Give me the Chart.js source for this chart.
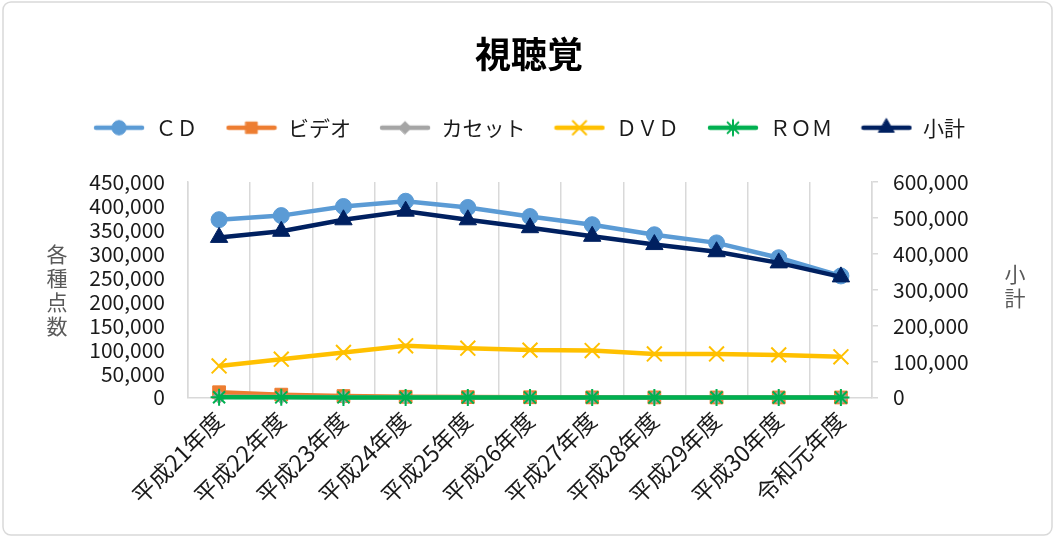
<!DOCTYPE html>
<html>
<head>
<meta charset="utf-8">
<script src="https://cdn.jsdelivr.net/npm/chart.js@4/dist/chart.umd.min.js"></script>
<style>
  html, body { margin: 0; padding: 0; background: #fff; }
  #wrap { width: 1058px; height: 543px; position: relative; }
</style>
</head>
<body>
<div id="wrap"><canvas id="myChart"></canvas></div>
<script>
// categories (fiscal years)
const years = ['平成21年度', '平成22年度', '平成23年度', '平成24年度', '平成25年度', '平成26年度',
  '平成27年度', '平成28年度', '平成29年度', '平成30年度', '令和元年度'];

// series values
const cdValues       = [371500, 380000, 399000, 410000, 397000, 378000, 361000, 340000, 323000, 292000, 254000];
const videoValues    = [11000, 6000, 3000, 1500, 800, 500, 300, 200, 100, 100, 50];
const cassetteValues = [1500, 800, 400, 200, 100, 50, 30, 20, 10, 10, 5];
const dvdValues      = [66000, 80000, 94000, 108000, 103000, 99000, 98000, 91000, 91000, 89000, 85000];
const romValues      = [500, 300, 200, 100, 50, 30, 20, 10, 10, 5, 5];
const subtotalValues = [446000, 463000, 495000, 519000, 495000, 473000, 449000, 426000, 406000, 375000, 336000];

// tick labels
const leftTicks  = [0, 50000, 100000, 150000, 200000, 250000, 300000, 350000, 400000, 450000];
const rightTicks = [0, 100000, 200000, 300000, 400000, 500000, 600000];

const fontFamily = '"Noto Sans CJK JP", "Noto Sans", sans-serif';
const textColor = '#1a1a1a';
const gridColor = '#d9d9d9';

// legend icon: line with the marker in the middle
function legendIcon(color, style, radius, borderWidth) {
  const c = document.createElement('canvas');
  c.width = 52;
  c.height = 22;
  const g = c.getContext('2d');
  g.strokeStyle = color;
  g.lineWidth = 4.5;
  g.lineCap = 'round';
  g.beginPath();
  g.moveTo(3, 11);
  g.lineTo(49, 11);
  g.stroke();
  g.fillStyle = color;
  g.lineWidth = borderWidth;
  Chart.helpers.drawPoint(g, {pointStyle: style, radius: radius, borderWidth: borderWidth, rotation: 0}, 26, 11);
  return c;
}

function series(label, data, color, style, radius, bw, axis, order) {
  return {
    label: label,
    data: data,
    yAxisID: axis,
    borderColor: color,
    backgroundColor: color,
    borderWidth: 4.5,
    pointStyle: style,
    pointRadius: radius,
    pointHoverRadius: radius,
    pointBorderWidth: bw,
    pointBackgroundColor: color,
    pointBorderColor: color,
    tension: 0,
    clip: false,
    order: order,
    icon: legendIcon(color, style, radius * 0.9, bw)
  };
}

// stacked vertical axis titles
const axisTitles = {
  id: 'axisTitles',
  afterDraw(chart) {
    const ctx = chart.ctx;
    const area = chart.chartArea;
    const mid = (area.top + area.bottom) / 2;
    ctx.save();
    ctx.font = '21px ' + fontFamily;
    ctx.fillStyle = '#595959';
    ctx.textAlign = 'center';
    ctx.textBaseline = 'middle';
    const left = ['各', '種', '点', '数'];
    left.forEach((ch, i) => ctx.fillText(ch, 57, mid + (i - (left.length - 1) / 2) * 24));
    const right = ['小', '計'];
    right.forEach((ch, i) => ctx.fillText(ch, 1015, mid - 4 + (i - (right.length - 1) / 2) * 24));
    ctx.restore();
  }
};

// outer rounded frame
const frame = {
  id: 'frame',
  beforeDraw(chart) {
    const ctx = chart.ctx;
    ctx.save();
    ctx.fillStyle = '#fff';
    ctx.fillRect(0, 0, chart.width, chart.height);
    ctx.strokeStyle = gridColor;
    ctx.lineWidth = 1.5;
    ctx.beginPath();
    ctx.roundRect(3, 2, 1049, 533, 8);
    ctx.stroke();
    ctx.restore();
  }
};

const ctx = document.getElementById('myChart').getContext('2d');
const myChart = new Chart(ctx, {
  type: 'line',
  data: {
    labels: years,
    datasets: [
      series('ＣＤ', cdValues, '#5B9BD5', 'circle', 8, 1, 'y', 6),
      series('ビデオ', videoValues, '#ED7D31', 'rect', 9, 1, 'y', 5),
      series('カセット', cassetteValues, '#A5A5A5', 'rectRot', 7, 1, 'y', 4),
      series('ＤＶＤ', dvdValues, '#FFC000', 'crossRot', 10.5, 2, 'y', 3),
      series('ＲＯＭ', romValues, '#00B050', 'star', 8.5, 2, 'y', 2),
      series('小計', subtotalValues, '#002060', 'triangle', 10, 1, 'y2', 1)
    ]
  },
  plugins: [frame, axisTitles],
  options: {
    responsive: true,
    maintainAspectRatio: false,
    animation: false,
    layout: { padding: { left: 20, right: 20, top: 0, bottom: 0 } },
    plugins: {
      tooltip: { enabled: false },
      title: {
        display: true,
        text: '視聴覚',
        color: '#000',
        font: { family: fontFamily, size: 36, weight: 'bold' },
        padding: { top: 33, bottom: 13 }
      },
      legend: {
        display: true,
        position: 'top',
        labels: {
          usePointStyle: true,
          pointStyleWidth: 52,
          padding: 28,
          color: textColor,
          font: { family: fontFamily, size: 21 },
          sort: (a, b) => a.datasetIndex - b.datasetIndex,
          generateLabels(chart) {
            const items = Chart.defaults.plugins.legend.labels.generateLabels(chart);
            items.forEach(it => { it.pointStyle = chart.data.datasets[it.datasetIndex].icon; });
            return items;
          }
        }
      }
    },
    scales: {
      x: {
        type: 'category',
        offset: true,
        grid: { display: true, offset: true, color: gridColor, lineWidth: 1.5, drawTicks: false },
        border: { display: true, color: gridColor, width: 1.5 },
        ticks: {
          autoSkip: false,
          maxRotation: 45,
          minRotation: 45,
          padding: 9,
          color: textColor,
          font: { family: fontFamily, size: 23 }
        },
        afterFit: s => { s.height = 145.5; }
      },
      spacer: {
        type: 'category',
        position: 'top',
        labels: years,
        grid: { display: false },
        border: { display: false },
        ticks: { display: false },
        afterFit: s => { s.height = 33.9; }
      },
      y: {
        position: 'left',
        min: 0,
        max: 450000,
        afterBuildTicks: s => { s.ticks = leftTicks.map(v => ({ value: v })); },
        grid: { display: true, drawOnChartArea: false, drawTicks: false, color: gridColor },
        border: { display: true, color: gridColor, width: 1.5 },
        ticks: {
          autoSkip: false,
          padding: 23,
          color: textColor,
          font: { family: fontFamily, size: 21 },
          callback: v => v.toLocaleString('en-US')
        },
        afterFit: s => { s.width = 168; }
      },
      y2: {
        position: 'right',
        min: 0,
        max: 600000,
        afterBuildTicks: s => { s.ticks = rightTicks.map(v => ({ value: v })); },
        grid: { display: true, drawOnChartArea: false, drawTicks: true, tickLength: 6, color: gridColor, lineWidth: 1.5 },
        border: { display: true, color: gridColor, width: 1.5 },
        ticks: {
          autoSkip: false,
          padding: 15,
          color: textColor,
          font: { family: fontFamily, size: 21 },
          callback: v => v.toLocaleString('en-US')
        },
        afterFit: s => { s.width = 166; }
      }
    }
  }
});
</script>
</body>
</html>
